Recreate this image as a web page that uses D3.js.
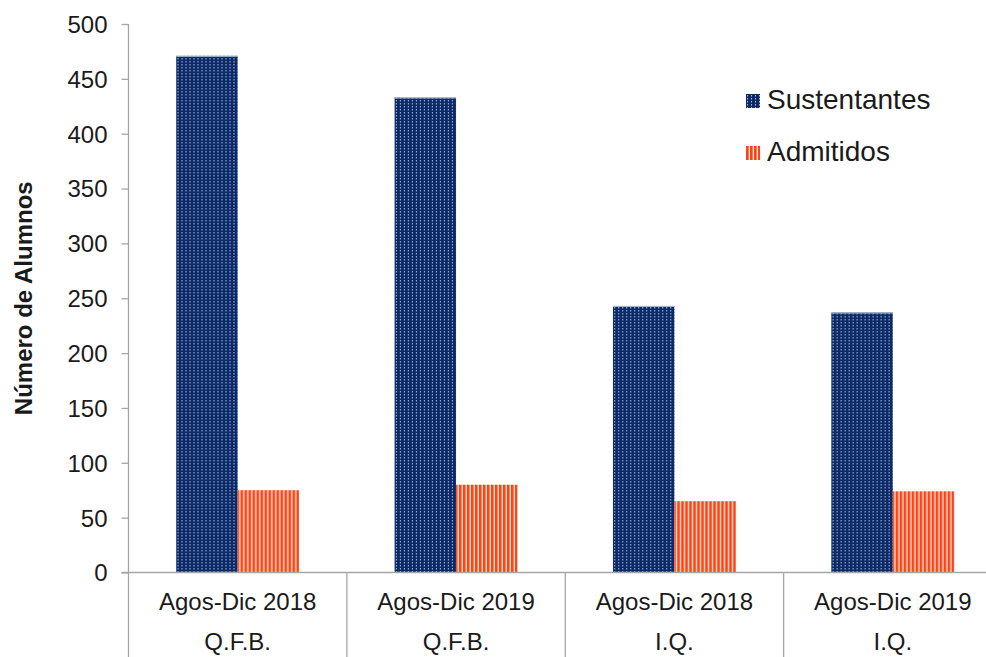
<!DOCTYPE html>
<html>
<head>
<meta charset="utf-8">
<script src="https://cdn.jsdelivr.net/npm/d3@7"></script>
<style>
  body { margin: 0; background: #fff; }
  text { font-family: Arial, "Liberation Sans", sans-serif; fill: #1a1a1a; }
</style>
</head>
<body>
<div id="chart"></div>
<script>
// data
const periods = ["Agos-Dic 2018", "Agos-Dic 2019", "Agos-Dic 2018", "Agos-Dic 2019"];
const careers = ["Q.F.B.", "Q.F.B.", "I.Q.", "I.Q."];
const seriesNames = ["Sustentantes", "Admitidos"];
const sustentantes = [471, 433, 243, 237];
const admitidos = [75, 80, 65, 74];
const yTicks = [0, 50, 100, 150, 200, 250, 300, 350, 400, 450, 500];

const width = 986, height = 657;
const plot = {left: 128.5, top: 24, bottom: 572.5, right: 1002};

const svg = d3.select("#chart")
  .append("svg")
    .attr("width", width)
    .attr("height", height);

// patterns for the two series
const defs = svg.append("defs");
const dots = defs.append("pattern")
  .attr("id", "pat-sus")
  .attr("patternUnits", "userSpaceOnUse")
  .attr("width", 4).attr("height", 3);
dots.append("rect").attr("width", 4).attr("height", 3).attr("fill", "#0c2a68");
dots.append("rect").attr("x", 1).attr("y", 1).attr("width", 1).attr("height", 1.5).attr("fill", "#a8b8da");

const stripes = defs.append("pattern")
  .attr("id", "pat-adm")
  .attr("patternUnits", "userSpaceOnUse")
  .attr("width", 4).attr("height", 4);
stripes.append("rect").attr("width", 4).attr("height", 4).attr("fill", "#fff2ee");
stripes.append("rect").attr("width", 2.7).attr("height", 4).attr("fill", "#ff4210");

const fills = {"Sustentantes": "url(#pat-sus)", "Admitidos": "url(#pat-adm)"};

// scales
const x = d3.scaleBand()
  .domain(d3.range(periods.length))
  .range([plot.left, plot.right])
  .padding(0);

const xSub = d3.scaleBand()
  .domain(seriesNames)
  .range([x.bandwidth() * 0.2185, x.bandwidth() * 0.7815])
  .padding(0);

const y = d3.scaleLinear()
  .domain([0, 500])
  .range([plot.bottom, plot.top]);

// bars
const rows = periods.map((p, i) => ({i: i, values: [
  {key: "Sustentantes", value: sustentantes[i]},
  {key: "Admitidos", value: admitidos[i]}
]}));

const groups = svg.append("g")
  .selectAll("g")
  .data(rows)
  .join("g")
    .attr("transform", d => `translate(${x(d.i)},0)`);

groups.selectAll("rect")
  .data(d => d.values)
  .join("rect")
    .attr("x", d => xSub(d.key))
    .attr("y", d => y(d.value))
    .attr("width", xSub.bandwidth())
    .attr("height", d => y(0) - y(d.value))
    .attr("fill", d => fills[d.key]);

// light edge on top of the blue bars
groups.selectAll("line.top")
  .data(d => d.values.filter(v => v.key == "Sustentantes"))
  .join("line")
    .attr("class", "top")
    .attr("x1", d => xSub(d.key))
    .attr("x2", d => xSub(d.key) + xSub.bandwidth())
    .attr("y1", d => y(d.value) + 0.5)
    .attr("y2", d => y(d.value) + 0.5)
    .attr("stroke", "#b8c2d6")
    .attr("stroke-width", 1);

// Y axis
const axisColor = "#a6a6a6";
const yAxis = svg.append("g")
  .attr("transform", `translate(${plot.left},0)`)
  .call(d3.axisLeft(y).tickValues(yTicks).tickSize(7).tickPadding(14));
yAxis.select(".domain").remove();
yAxis.selectAll("line").attr("stroke", axisColor).attr("stroke-width", 1.3);
yAxis.selectAll("text")
  .style("font-size", "24px")
  .style("font-family", "Arial, 'Liberation Sans', sans-serif")
  .attr("fill", "#1a1a1a")
  .attr("dy", "0.35em");

svg.append("line")
  .attr("x1", plot.left).attr("x2", plot.left)
  .attr("y1", plot.top).attr("y2", height)
  .attr("stroke", axisColor).attr("stroke-width", 1.3);

// X axis line and category separators
svg.append("line")
  .attr("x1", plot.left - 7).attr("x2", width)
  .attr("y1", plot.bottom).attr("y2", plot.bottom)
  .attr("stroke", axisColor).attr("stroke-width", 1.3);

svg.append("g")
  .selectAll("line")
  .data(d3.range(1, periods.length))
  .join("line")
    .attr("x1", d => x(d)).attr("x2", d => x(d))
    .attr("y1", plot.bottom).attr("y2", height)
    .attr("stroke", axisColor).attr("stroke-width", 1.3);

// category labels (two lines)
const labels = svg.append("g")
  .selectAll("g")
  .data(d3.range(periods.length))
  .join("g")
    .attr("transform", d => `translate(${x(d) + x.bandwidth() / 2},0)`);
labels.append("text")
  .attr("text-anchor", "middle")
  .attr("y", 610)
  .style("font-size", "24px")
  .text(d => periods[d]);
labels.append("text")
  .attr("text-anchor", "middle")
  .attr("y", 650)
  .style("font-size", "24px")
  .text(d => careers[d]);

// Y axis title
svg.append("text")
  .attr("text-anchor", "middle")
  .attr("transform", `translate(32,${(plot.top + plot.bottom) / 2}) rotate(-90)`)
  .style("font-size", "24px")
  .style("font-weight", "bold")
  .text("Número de Alumnos");

// legend
const legend = svg.append("g")
  .selectAll("g")
  .data(seriesNames)
  .join("g")
    .attr("transform", (d, i) => `translate(746,${109 + i * 52})`);
legend.append("rect")
  .attr("x", 0).attr("y", -15)
  .attr("width", 14).attr("height", 14)
  .attr("fill", d => fills[d]);
legend.append("text")
  .attr("x", 21).attr("y", 0)
  .style("font-size", "28px")
  .text(d => d);
</script>
</body>
</html>
